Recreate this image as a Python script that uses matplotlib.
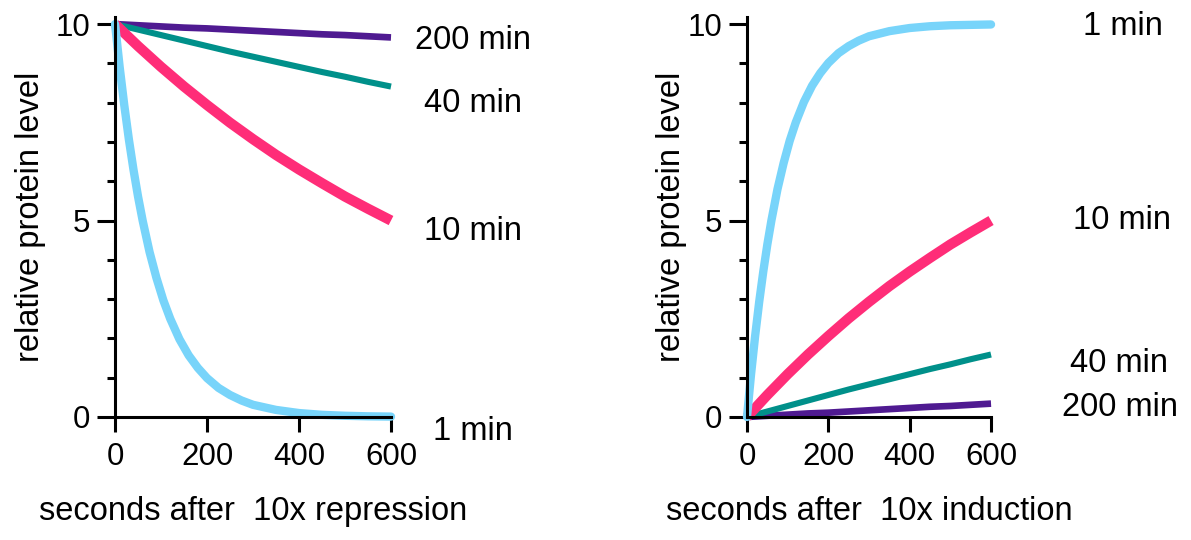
import matplotlib
matplotlib.use("Agg")
import matplotlib.pyplot as plt
from matplotlib.ticker import MultipleLocator

plt.rcParams['font.family'] = ['Liberation Sans', 'DejaVu Sans']

# time points (seconds)
t_fast = [0, 10, 20, 30, 40, 50, 60, 75, 90, 105, 120, 140, 160, 180, 200,
          225, 250, 275, 300, 350, 400, 450, 500, 550, 600]
t_slow = [0, 50, 100, 150, 200, 250, 300, 350, 400, 450, 500, 550, 600]

# repression (decay)
rep_1min = [10, 8.91, 7.94, 7.07, 6.30, 5.61, 5.00, 4.20, 3.54, 2.97, 2.50, 1.98,
            1.57, 1.25, 0.99, 0.74, 0.56, 0.42, 0.31, 0.18, 0.10, 0.055, 0.031,
            0.017, 0.01]
rep_10min = [10, 9.44, 8.91, 8.41, 7.94, 7.49, 7.07, 6.67, 6.30, 5.95, 5.61, 5.30, 5.00]
rep_40min = [10, 9.86, 9.72, 9.58, 9.44, 9.30, 9.17, 9.04, 8.91, 8.78, 8.66, 8.53, 8.41]
rep_200min = [10, 9.97, 9.94, 9.91, 9.89, 9.86, 9.83, 9.80, 9.77, 9.74, 9.72, 9.69, 9.66]

# induction (rise)
ind_1min = [0, 1.09, 2.06, 2.93, 3.70, 4.39, 5.00, 5.80, 6.46, 7.03, 7.50, 8.02,
            8.43, 8.75, 9.01, 9.26, 9.44, 9.58, 9.69, 9.82, 9.90, 9.945, 9.97,
            9.98, 9.99]
ind_10min = [0, 0.56, 1.09, 1.59, 2.06, 2.51, 2.93, 3.33, 3.70, 4.05, 4.39, 4.70, 5.00]
ind_40min = [0, 0.14, 0.28, 0.42, 0.56, 0.70, 0.83, 0.96, 1.09, 1.22, 1.34, 1.47, 1.59]
ind_200min = [0, 0.03, 0.06, 0.09, 0.11, 0.14, 0.17, 0.20, 0.23, 0.26, 0.28, 0.31, 0.34]

labels = ['1 min', '10 min', '40 min', '200 min']
colors = ['#78D4FA', '#FF2D78', '#00908A', '#4F1A91']
widths = [6.0, 7.4, 4.4, 4.8]
FS = 23.5

fig = plt.figure(figsize=(11.91, 5.40), dpi=100)
ax1 = fig.add_axes([0.0966, 0.2278, 0.2317, 0.7407])
ax2 = fig.add_axes([0.6272, 0.2278, 0.2049, 0.7407])


def style(ax, xlabel, ypad):
    ax.set_xlim(0, 600)
    ax.set_ylim(0, 10.18)
    for s in ['top', 'right']:
        ax.spines[s].set_visible(False)
    for s in ['left', 'bottom']:
        ax.spines[s].set_linewidth(2.2)
    ax.spines['bottom'].set_bounds(0, 600)
    ax.set_xticks([0, 200, 400, 600])
    ax.set_yticks([0, 5, 10])
    ax.yaxis.set_minor_locator(MultipleLocator(1))
    ax.tick_params(axis='x', length=11, width=2.2, labelsize=22.5, pad=7)
    ax.tick_params(axis='y', which='major', length=13, width=2.2, labelsize=22.5, pad=5)
    ax.tick_params(axis='y', which='minor', length=6, width=2.2)
    ax.set_xlabel(xlabel, fontsize=FS, labelpad=17)
    ax.set_ylabel('relative protein level', fontsize=FS, labelpad=ypad)
    ax.patch.set_visible(False)


# left: repression
ax1.plot(t_slow, rep_200min, color=colors[3], lw=widths[3], solid_capstyle='butt', clip_on=False)
ax1.plot(t_slow, rep_40min, color=colors[2], lw=widths[2], solid_capstyle='butt', clip_on=False)
ax1.plot(t_slow, rep_10min, color=colors[1], lw=widths[1], solid_capstyle='butt', clip_on=False)
ax1.plot(t_fast, rep_1min, color=colors[0], lw=widths[0], solid_capstyle='round', clip_on=False)
style(ax1, 'seconds after  10x repression', 6.5)

ax1.text(652, 9.59, '200 min', fontsize=FS, va='center', clip_on=False)
ax1.text(672, 7.99, '40 min', fontsize=FS, va='center', clip_on=False)
ax1.text(672, 4.71, '10 min', fontsize=FS, va='center', clip_on=False)
ax1.text(691, -0.38, '1 min', fontsize=FS, va='center', clip_on=False)

# right: induction
ax2.plot(t_slow, ind_200min, color=colors[3], lw=widths[3], solid_capstyle='butt', clip_on=False)
ax2.plot(t_slow, ind_40min, color=colors[2], lw=widths[2], solid_capstyle='butt', clip_on=False)
ax2.plot(t_slow, ind_10min, color=colors[1], lw=widths[1], solid_capstyle='butt', clip_on=False)
ax2.plot(t_fast, ind_1min, color=colors[0], lw=widths[0], solid_capstyle='round', clip_on=False)
style(ax2, 'seconds after  10x induction', 0)

ax2.text(826, 9.95, '1 min', fontsize=FS, va='center', clip_on=False)
ax2.text(802, 5.01, '10 min', fontsize=FS, va='center', clip_on=False)
ax2.text(794, 1.35, '40 min', fontsize=FS, va='center', clip_on=False)
ax2.text(775, 0.25, '200 min', fontsize=FS, va='center', clip_on=False)

fig.savefig('out.png', dpi=100)
